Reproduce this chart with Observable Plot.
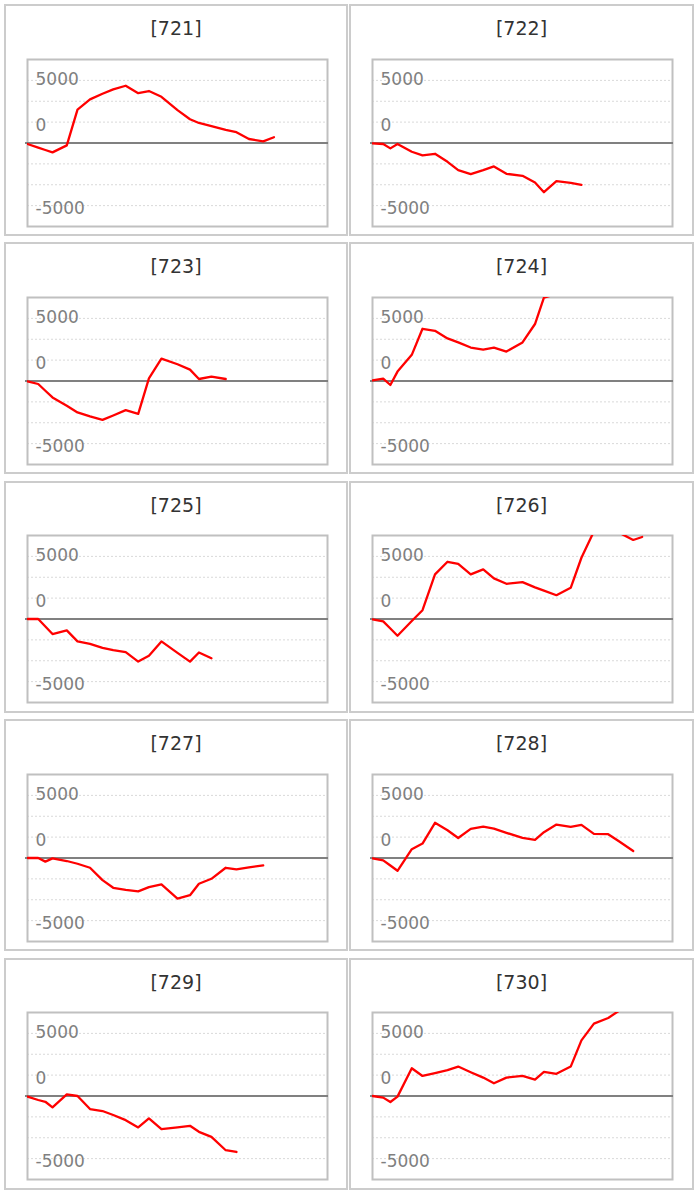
<!DOCTYPE html>
<html><head><meta charset="utf-8">
<script src="https://cdn.jsdelivr.net/npm/d3@7"></script>
<script src="https://cdn.jsdelivr.net/npm/@observablehq/plot@0.6"></script>
<style>
body{margin:0;background:#fff;}
#root{position:relative;width:697px;height:1197px;font-family:"DejaVu Sans",Verdana,sans-serif;}
.panel{position:absolute;box-sizing:border-box;border:2px solid #cccccc;height:232px;}
.title{position:absolute;left:0;right:0;top:11px;text-align:center;font-size:19px;line-height:22px;color:#333;}
.chart{position:absolute;}
</style></head><body><div id="root"></div>
<script>
// x positions (days) of the observations, shared by all panels
const days = [0, 6, 10, 14, 22, 28, 35, 42, 48, 55, 62, 68, 75, 84, 91, 96, 103, 111, 117, 124, 132, 138, 146, 151];

const panelIds = ["721","722","723","724","725","726","727","728","729","730"];

const v721 = [-80, -370, -560, -750, -190, 2670, 3480, 3930, 4280, 4570, 3980, 4150, 3690, 2620, 1900, 1600, 1340, 1040, 860, 320, 130, 460];
const v722 = [-30, -80, -430, -80, -700, -990, -860, -1500, -2170, -2490, -2170, -1870, -2460, -2620, -3160, -3930, -3050, -3180, -3340];
const v723 = [-30, -240, -780, -1310, -1980, -2510, -2830, -3100, -2750, -2330, -2620, 210, 1790, 1340, 910, 160, 350, 160];
const v724 = [50, 190, -320, 750, 2090, 4170, 4010, 3400, 3080, 2670, 2510, 2670, 2350, 3080, 4550, 6650, 6950];
const v725 = [0, 0, -600, -1200, -910, -1790, -1980, -2300, -2490, -2650, -3400, -2940, -1790, -2700, -3400, -2670, -3130];
const v726 = [-30, -190, -760, -1340, -160, 700, 3560, 4570, 4410, 3560, 3960, 3240, 2810, 2940, 2530, 2270, 1900, 2490, 4890, 7000, 7200, 6900, 6310, 6550];
const v727 = [0, 0, -290, -30, -240, -460, -780, -1770, -2380, -2540, -2670, -2330, -2110, -3240, -2970, -2060, -1660, -780, -910, -750, -590];
const v728 = [-30, -190, -600, -1020, 700, 1150, 2810, 2220, 1600, 2330, 2510, 2350, 2010, 1600, 1440, 2060, 2670, 2490, 2650, 1930, 1900, 1340, 560];
const v729 = [-50, -320, -460, -910, 130, 0, -1040, -1200, -1520, -1930, -2510, -1790, -2650, -2510, -2380, -2860, -3260, -4330, -4470];
const v730 = [0, -130, -480, -50, 2220, 1600, 1820, 2060, 2350, 1900, 1470, 1020, 1470, 1600, 1310, 1930, 1770, 2350, 4440, 5780, 6230, 6800];

const panelValues = [v721, v722, v723, v724, v725, v726, v727, v728, v729, v730];

// y axis: grid every 1666.67, labels as drawn in the reference
const yDomain = [-6667, 6667];
const gridValues = [5000, 3333, 1667, -1667, -3333, -5000];
const labelValues = [5000, 1667, -5000];
const labelTexts = ["5000", "0", "-5000"];

const root = document.getElementById("root");
const colLeft = [4, 349];
const colWidth = [344, 345];
const frameLeft = [26.7, 372];
const rowPitch = 238.4;

panelIds.forEach((id, k) => {
  const col = k % 2, row = Math.floor(k / 2);
  const top = 4 + rowPitch * row;
  const panel = document.createElement("div");
  panel.className = "panel";
  panel.style.left = colLeft[col] + "px";
  panel.style.top = top + "px";
  panel.style.width = colWidth[col] + "px";
  const t = document.createElement("div");
  t.className = "title";
  t.textContent = "[" + id + "]";
  panel.appendChild(t);
  root.appendChild(panel);

  const data = panelValues[k].map((v, i) => ({day: days[i], v}));
  const labels = labelValues.map((v, i) => ({v, t: labelTexts[i]}));

  const chart = Plot.plot({
    width: 306, height: 171,
    marginLeft: 3, marginRight: 3, marginTop: 2, marginBottom: 2,
    x: {domain: [0, 168], axis: null},
    y: {domain: yDomain, axis: null},
    style: {background: "white", fontFamily: "'DejaVu Sans', Verdana, sans-serif", overflow: "visible"},
    marks: [
      Plot.ruleY(gridValues, {stroke: "#d9d9d9", strokeWidth: 1, strokeDasharray: "2,2"}),
      Plot.frame({stroke: "#c0c0c0", strokeWidth: 2}),
      Plot.ruleY([0], {stroke: "#808080", strokeWidth: 2, insetLeft: -2, insetRight: -1}),
      Plot.text(labels.slice(0, 1), {y: "v", text: "t", frameAnchor: "left", textAnchor: "start", dx: 8, dy: -0.5, fill: "#808080", fontSize: 17}),
      Plot.text(labels.slice(1), {y: "v", text: "t", frameAnchor: "left", textAnchor: "start", dx: 8, dy: 3, fill: "#808080", fontSize: 17}),
      Plot.line(data, {x: "day", y: "v", stroke: "#ff0000", strokeWidth: 2.3, clip: true})
    ]
  });
  const holder = document.createElement("div");
  holder.className = "chart";
  holder.style.left = (frameLeft[col] - 3) + "px";
  holder.style.top = (142 + rowPitch * row - 85.5) + "px";
  holder.appendChild(chart);
  root.appendChild(holder);
});
</script>
</body></html>
